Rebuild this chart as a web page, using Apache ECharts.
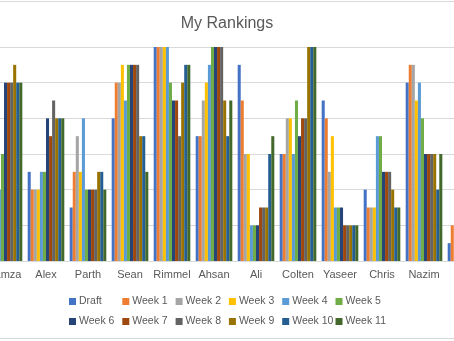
<!DOCTYPE html>
<html>
<head>
<meta charset="utf-8">
<script src="https://cdn.jsdelivr.net/npm/echarts@6/dist/echarts.min.js"></script>
<style>html,body{margin:0;padding:0;background:#fff;}#c{width:454px;height:341px;}</style>
</head>
<body>
<div id="c"></div>
<script>
const categories = ['Hamza','Alex','Parth','Sean','Rimmel','Ahsan','Ali','Colten','Yaseer','Chris','Nazim','Kyle'];
const seriesNames = ['Draft','Week 1','Week 2','Week 3','Week 4','Week 5','Week 6','Week 7','Week 8','Week 9','Week 10','Week 11'];
const colors = ['#4472C4','#ED7D31','#A5A5A5','#FFC000','#5B9BD5','#70AD47','#264478','#9E480E','#636363','#997300','#255E91','#43682B'];
// values per category (one entry per series); null = not visible
const hamza  = [null, null, null, null, 4, 6, 10, 10, 10, 11, 10, 10];
const alex   = [5, 4, 4, 4, 5, 5, 8, 7, 9, 8, 8, 8];
const parth  = [3, 5, 7, 5, 8, 4, 4, 4, 4, 5, 5, 4];
const sean   = [8, 10, 10, 11, 9, 11, 11, 11, 11, 7, 7, 5];
const rimmel = [12, 12, 12, 12, 12, 10, 9, 9, 7, 10, 11, 11];
const ahsan  = [7, 7, 9, 10, 11, 12, 12, 12, 12, 9, 7, 9];
const ali    = [11, 9, 6, 6, 2, 2, 2, 3, 3, 3, 6, 7];
const colten = [6, 6, 8, 8, 6, 9, 7, 8, 8, 12, 12, 12];
const yaseer = [9, 8, 5, 7, 3, 3, 3, 2, 2, 2, 2, 2];
const chris  = [4, 3, 3, 3, 7, 7, 5, 5, 5, 4, 3, 3];
const nazim  = [10, 11, 11, 9, 10, 8, 6, 6, 6, 6, 4, 6];
const kyle   = [1, 2, null, null, null, null, null, null, null, null, null, null];
const yTicks = [0, 2, 4, 6, 8, 10, 12];

const rows = [hamza, alex, parth, sean, rimmel, ahsan, ali, colten, yaseer, chris, nazim, kyle];
const font = 'Liberation Sans';
const series = seriesNames.map((name, si) => ({
  name: name,
  type: 'bar',
  data: rows.map(r => r[si]),
  itemStyle: { color: colors[si] },
  barGap: '0%',
  barCategoryGap: '12.8%',
  animation: false
}));
// one legend per entry so that the two rows line up in fixed columns
const legends = seriesNames.map((n, i) => ({
  left: 69 + (i % 6) * 53.3,
  top: i < 6 ? 296 : 316,
  padding: 0,
  orient: 'horizontal', icon: 'rect', itemWidth: 7, itemHeight: 7, itemGap: 3,
  textStyle: { color: '#595959', fontSize: 10.5, fontFamily: font, padding: [0, 0, 0, -2] },
  selectedMode: false,
  data: [{ name: n, itemStyle: { color: colors[i] } }]
}));
const chart = echarts.init(document.getElementById('c'), null, { renderer: 'canvas' });
chart.setOption({
  animation: false,
  color: colors,
  title: {
    text: 'My Rankings', left: 'center', top: 11,
    textStyle: { color: '#595959', fontSize: 16, fontWeight: 'normal', fontFamily: font }
  },
  legend: legends,
  grid: { left: -17, width: 504, top: 47, bottom: 80, containLabel: false, outerBoundsMode: 'none' },
  xAxis: {
    type: 'category', data: categories,
    axisLine: { lineStyle: { color: '#D9D9D9' } },
    axisTick: { show: false },
    axisLabel: { color: '#595959', fontSize: 11, fontFamily: font, margin: 8, interval: 0, hideOverlap: false }
  },
  yAxis: {
    type: 'value', min: yTicks[0], max: yTicks[yTicks.length - 1], interval: 2,
    axisLabel: { show: false }, axisLine: { show: false }, axisTick: { show: false },
    splitLine: { lineStyle: { color: '#D9D9D9' } }
  },
  graphic: [
    { type: 'line', shape: { x1: 0, y1: 1.5, x2: 454, y2: 1.5 }, style: { stroke: '#D9D9D9', lineWidth: 1 }, silent: true },
    { type: 'line', shape: { x1: 0, y1: 338.5, x2: 454, y2: 338.5 }, style: { stroke: '#D9D9D9', lineWidth: 1 }, silent: true }
  ],
  series: series
});
</script>
</body>
</html>
